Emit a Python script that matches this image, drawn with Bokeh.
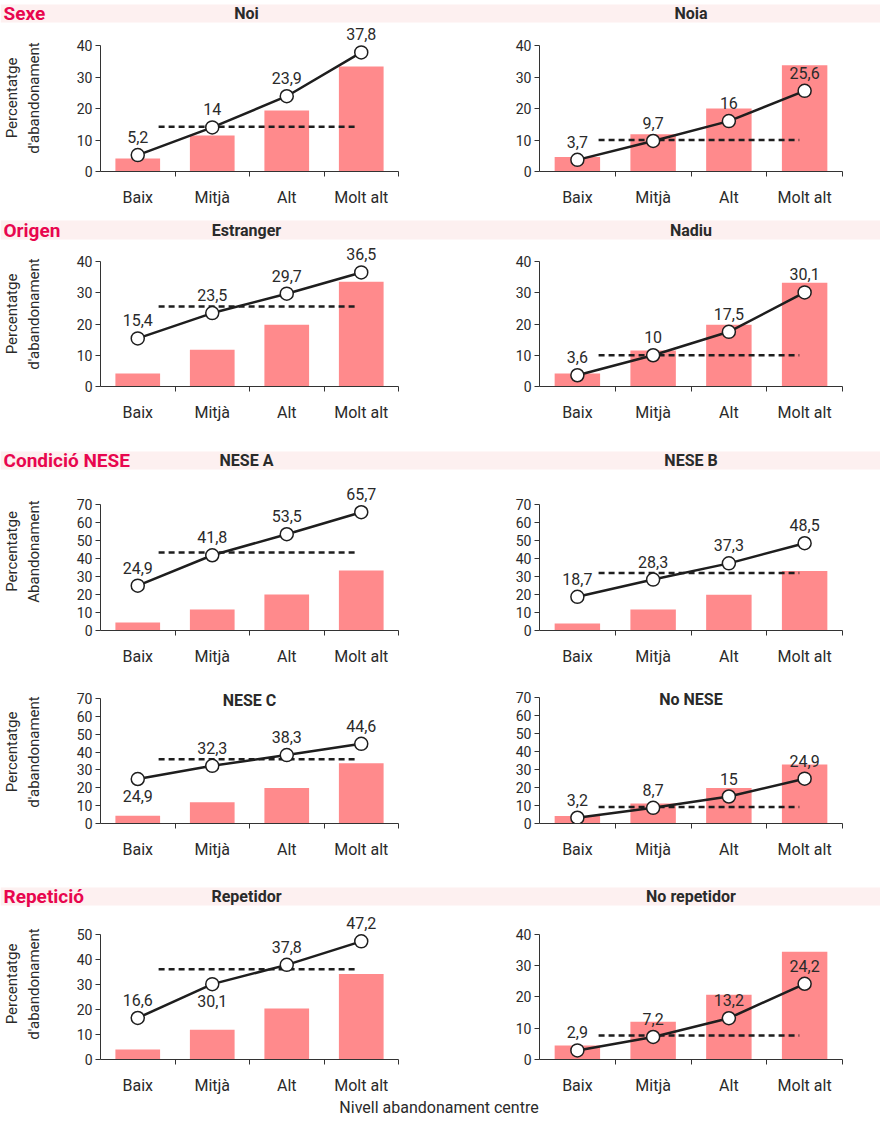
from bokeh.plotting import figure
from bokeh.layouts import column, row
from bokeh.models import Range1d, FixedTicker, ColumnDataSource, LabelSet, Label
from bokeh.embed import file_html
from bokeh.resources import INLINE
from bokeh.core.properties import value

# ---------------- data ----------------
categories = ["Baix", "Mitjà", "Alt", "Molt alt"]
section_names = ["Sexe", "Origen", "Condició NESE", "Repetició"]
x_axis_title = "Nivell abandonament centre"

noi_bars = [4.1, 11.4, 19.4, 33.3]
noi_vals = [5.2, 14, 23.9, 37.8]
noi_avg = 14.2

noia_bars = [4.6, 11.8, 20.0, 33.7]
noia_vals = [3.7, 9.7, 16, 25.6]
noia_avg = 10.0

estranger_bars = [4.2, 11.8, 19.8, 33.5]
estranger_vals = [15.4, 23.5, 29.7, 36.5]
estranger_avg = 25.6

nadiu_bars = [4.2, 11.5, 19.8, 33.2]
nadiu_vals = [3.6, 10, 17.5, 30.1]
nadiu_avg = 10.0

nese_a_bars = [4.4, 11.7, 20.0, 33.4]
nese_a_vals = [24.9, 41.8, 53.5, 65.7]
nese_a_avg = 43.3

nese_b_bars = [3.9, 11.6, 19.9, 33.1]
nese_b_vals = [18.7, 28.3, 37.3, 48.5]
nese_b_avg = 32.0

nese_c_bars = [4.3, 11.9, 19.9, 33.8]
nese_c_vals = [24.9, 32.3, 38.3, 44.6]
nese_c_avg = 36.0

no_nese_bars = [4.2, 11.1, 19.7, 32.8]
no_nese_vals = [3.2, 8.7, 15, 24.9]
no_nese_avg = 9.2

repetidor_bars = [4.0, 11.9, 20.4, 34.2]
repetidor_vals = [16.6, 30.1, 37.8, 47.2]
repetidor_avg = 36.1

no_repetidor_bars = [4.5, 12.1, 20.7, 34.4]
no_repetidor_vals = [2.9, 7.2, 13.2, 24.2]
no_repetidor_avg = 7.7

# ---------------- style ----------------
FONT = "Roboto"
BAR = "#FF8A8C"
BAND = "#FDF0F0"
RED = "#E8064E"
INK = "#1E1E1E"
AXIS = "#333333"
TXT = "#2A2A2A"
DASH_X0, DASH_X1 = 0.78, 3.43
TOTAL_W = 880
LEFT_TITLE_X, RIGHT_TITLE_X = 246, 690.5


def fmt(v):
    return f"{v:g}".replace(".", ",")


def panel(bars, vals, avg, ymax, fig_top, fig_bottom, zero_px, tick_px,
          left, ylabel=None, below=(), inner_title=None):
    if left:
        width, bl, br = 440, 94, 42
    else:
        width, bl, br = 440, 99, 38
    height = fig_bottom - fig_top
    bb = fig_bottom - zero_px
    fh = zero_px - fig_top
    scale = (zero_px - tick_px) / ymax
    y_end = fh / scale
    p = figure(width=width, height=height, x_range=Range1d(0, 4),
               y_range=Range1d(0, y_end), output_backend="svg",
               toolbar_location=None, min_border_left=bl, min_border_right=br,
               min_border_top=0, min_border_bottom=bb,
               outline_line_color=None, background_fill_color="white",
               border_fill_color="white")
    p.grid.visible = False

    xs = [i + 0.5 for i in range(len(categories))]
    p.vbar(x=xs, top=bars, bottom=0, width=0.6, fill_color=BAR, line_color=None)
    p.segment(x0=[DASH_X0], x1=[DASH_X1], y0=[avg], y1=[avg],
              line_color=INK, line_width=2.5, line_dash="6 4")
    p.line(xs, vals, line_color=INK, line_width=2.5)
    p.scatter(xs, vals, size=13, fill_color="white", line_color=INK, line_width=1.5)
    offs = [-17 if i in below else 18 for i in range(len(vals))]
    src = ColumnDataSource(dict(x=xs, y=vals, t=[fmt(v) for v in vals], off=offs))
    p.add_layout(LabelSet(x="x", y="y", text="t", y_offset="off", source=src,
                          text_font=value(FONT), text_font_size="16px",
                          text_color=TXT, text_align="center",
                          text_baseline="middle"))
    if inner_title:
        p.add_layout(Label(x=2, y=ymax, y_offset=-2, text=inner_title,
                           text_font=FONT, text_font_size="16px",
                           text_font_style="bold", text_color=TXT,
                           text_align="center", text_baseline="middle"))

    xa = p.xaxis[0]
    xa.ticker = FixedTicker(ticks=xs, minor_ticks=[1, 2, 3, 4])
    xa.major_label_overrides = {x: c for x, c in zip(xs, categories)}
    xa.bounds = (0, 4)
    xa.major_tick_out = 0
    xa.major_tick_in = 0
    xa.minor_tick_out = 5
    xa.minor_tick_in = 0
    xa.minor_tick_line_color = AXIS
    xa.axis_line_color = AXIS
    xa.major_label_standoff = 11
    xa.major_label_text_font = FONT
    xa.major_label_text_font_size = "16px"
    xa.major_label_text_color = TXT

    ya = p.yaxis[0]
    ya.ticker = FixedTicker(ticks=list(range(0, ymax + 1, 10)))
    ya.bounds = (0, ymax)
    ya.major_tick_out = 5
    ya.major_tick_in = 0
    ya.minor_tick_line_color = None
    ya.major_tick_line_color = AXIS
    ya.axis_line_color = AXIS
    ya.major_label_standoff = 3
    ya.major_label_text_font = FONT
    ya.major_label_text_font_size = "14px"
    ya.major_label_text_color = TXT
    if ylabel:
        ya.axis_label = ylabel
        ya.axis_label_text_font = FONT
        ya.axis_label_text_font_size = "15px"
        ya.axis_label_text_font_style = "normal"
        ya.axis_label_text_color = TXT
        ya.axis_label_standoff = 31
    return p


def band(fig_top, fig_bottom, pink_top, pink_bottom, section, titles):
    h = fig_bottom - fig_top
    p = figure(width=TOTAL_W, height=h, x_range=Range1d(0, TOTAL_W),
               y_range=Range1d(0, h), output_backend="svg", toolbar_location=None,
               min_border=0, outline_line_color=None, background_fill_color="white",
               border_fill_color="white", x_axis_location=None, y_axis_location=None)
    p.grid.visible = False
    top = fig_bottom - pink_top
    bot = fig_bottom - pink_bottom
    p.quad(left=[0], right=[TOTAL_W], top=[top], bottom=[bot],
           fill_color=BAND, line_color=None)
    yc = (top + bot) / 2
    p.text(x=[3], y=[yc], text=[section], text_font=value(FONT),
           text_font_size="19px", text_font_style="bold", text_color=RED,
           text_align="left", text_baseline="middle")
    p.text(x=[LEFT_TITLE_X, RIGHT_TITLE_X], y=[yc, yc], text=titles,
           text_font=value(FONT), text_font_size="16px", text_font_style="bold",
           text_color=TXT, text_align="center", text_baseline="middle")
    return p


def footer(h):
    p = figure(width=TOTAL_W, height=h, x_range=Range1d(0, TOTAL_W),
               y_range=Range1d(0, h), output_backend="svg", toolbar_location=None,
               min_border=0, outline_line_color=None, background_fill_color="white",
               border_fill_color="white", x_axis_location=None, y_axis_location=None)
    p.grid.visible = False
    p.text(x=[438.5], y=[h / 2 + 1], text=[x_axis_title], text_font=value(FONT),
           text_font_size="16px", text_color=TXT, text_align="center",
           text_baseline="middle")
    return p


YL1 = "Percentatge\nd'abandonament"
YL2 = "Percentatge\nAbandonament"

b1 = band(0, 24, 4, 22, section_names[0], ["Noi", "Noia"])
r1 = row(panel(noi_bars, noi_vals, noi_avg, 40, 24, 218, 171, 45, True, ylabel=YL1),
         panel(noia_bars, noia_vals, noia_avg, 40, 24, 218, 171, 45, False),
         spacing=0)
b2 = band(218, 241, 220, 239, section_names[1], ["Estranger", "Nadiu"])
r2 = row(panel(estranger_bars, estranger_vals, estranger_avg, 40, 241, 448, 386, 261, True, ylabel=YL1),
         panel(nadiu_bars, nadiu_vals, nadiu_avg, 40, 241, 448, 386, 261, False),
         spacing=0)
b3 = band(448, 472, 451, 469, section_names[2], ["NESE A", "NESE B"])
r3 = row(panel(nese_a_bars, nese_a_vals, nese_a_avg, 70, 472, 680, 630, 504, True, ylabel=YL2),
         panel(nese_b_bars, nese_b_vals, nese_b_avg, 70, 472, 680, 630, 504, False),
         spacing=0)
r4 = row(panel(nese_c_bars, nese_c_vals, nese_c_avg, 70, 680, 884, 823, 698, True,
               ylabel=YL1, below=(0,), inner_title="NESE C"),
         panel(no_nese_bars, no_nese_vals, no_nese_avg, 70, 680, 884, 823, 697, False,
               inner_title="No NESE"),
         spacing=0)
b5 = band(884, 908, 887, 905, section_names[3], ["Repetidor", "No repetidor"])
r5 = row(panel(repetidor_bars, repetidor_vals, repetidor_avg, 50, 908, 1097, 1060, 934, True,
               ylabel=YL1, below=(1,)),
         panel(no_repetidor_bars, no_repetidor_vals, no_repetidor_avg, 40, 908, 1097, 1060, 934, False),
         spacing=0)
f = footer(22)

layout = column(b1, r1, b2, r2, b3, r3, r4, b5, r5, f, spacing=0)

open("out.html", "w").write(file_html(layout, INLINE))
